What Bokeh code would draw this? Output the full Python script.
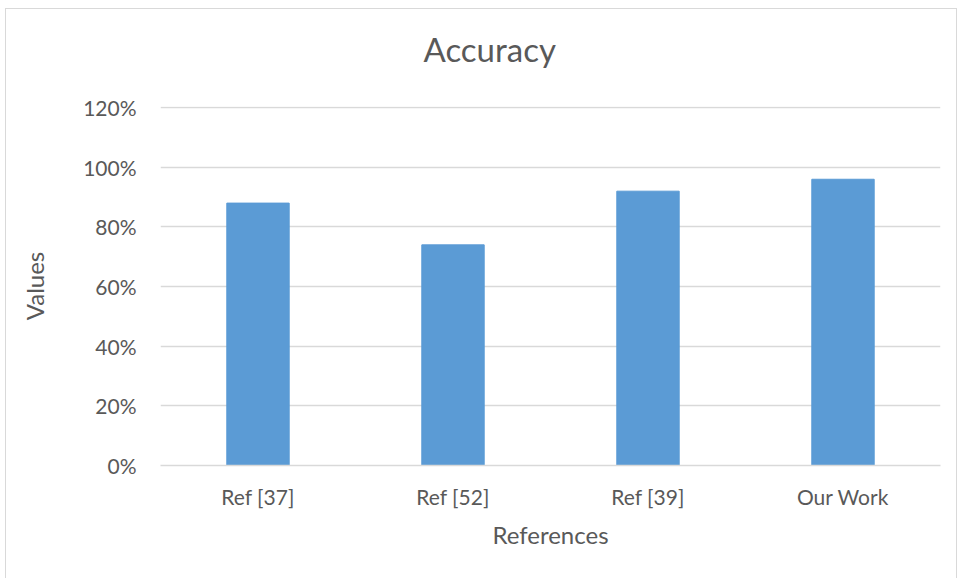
from bokeh.plotting import figure
from bokeh.models import ColumnDataSource, NumeralTickFormatter, FixedTicker, Range1d
from bokeh.embed import file_html
from bokeh.resources import INLINE

title_text = "Accuracy"
categories = ["Ref [37]", "Ref [52]", "Ref [39]", "Our Work"]
accuracy = [0.88, 0.74, 0.92, 0.96]
y_ticks = [0, 0.2, 0.4, 0.6, 0.8, 1.0, 1.2]

FONT = "Lato"
TXT = "#595959"
GRID = "#d9d9d9"

src = ColumnDataSource(data=dict(cat=categories, val=accuracy))

p = figure(x_range=categories, y_range=Range1d(0, 1.204), width=952, height=572,
           output_backend="svg", toolbar_location=None, title=title_text)
p.styles = {"margin-left": "5px", "margin-top": "8px", "border": "1px solid #d9d9d9"}

p.vbar(x="cat", top="val", width=0.32, source=src, color="#5b9bd5", line_color="#5b9bd5")

p.min_border_left = 154
p.min_border_right = 18
p.min_border_top = 97
p.min_border_bottom = 116

p.title.align = "left"
p.title.offset = 263
p.title.vertical_align = "top"
p.title.padding = dict(left=0, right=0, top=0, bottom=20)
p.title.text_font = FONT
p.title.text_font_size = "33px"
p.title.text_font_style = "normal"
p.title.text_color = TXT
p.title.standoff = 32

p.outline_line_color = None
p.xgrid.grid_line_color = None
p.ygrid.grid_line_color = GRID
p.ygrid.grid_line_width = 1.3

p.yaxis.ticker = FixedTicker(ticks=y_ticks)
p.yaxis.formatter = NumeralTickFormatter(format="0%")
p.yaxis.axis_line_color = None
p.yaxis.major_tick_line_color = None
p.yaxis.minor_tick_line_color = None
p.yaxis.major_label_text_font = FONT
p.yaxis.major_label_text_font_size = "21px"
p.yaxis.major_label_text_color = TXT
p.yaxis.major_label_standoff = 18
p.yaxis.axis_label = "Values"
p.yaxis.axis_label_text_font = FONT
p.yaxis.axis_label_text_font_size = "24px"
p.yaxis.axis_label_text_font_style = "normal"
p.yaxis.axis_label_text_color = TXT
p.yaxis.axis_label_standoff = 31

p.xaxis.axis_line_color = GRID
p.xaxis.axis_line_width = 1.3
p.xaxis.major_tick_line_color = None
p.xaxis.minor_tick_line_color = None
p.xaxis.major_label_text_font = FONT
p.xaxis.major_label_text_font_size = "21px"
p.xaxis.major_label_text_color = TXT
p.xaxis.major_label_standoff = 12
p.xaxis.axis_label = "References"
p.xaxis.axis_label_text_font = FONT
p.xaxis.axis_label_text_font_size = "24px"
p.xaxis.axis_label_text_font_style = "normal"
p.xaxis.axis_label_text_color = TXT
p.xaxis.axis_label_standoff = 8

p.x_range.range_padding = 0

open("out.html", "w").write(file_html(p, INLINE))
